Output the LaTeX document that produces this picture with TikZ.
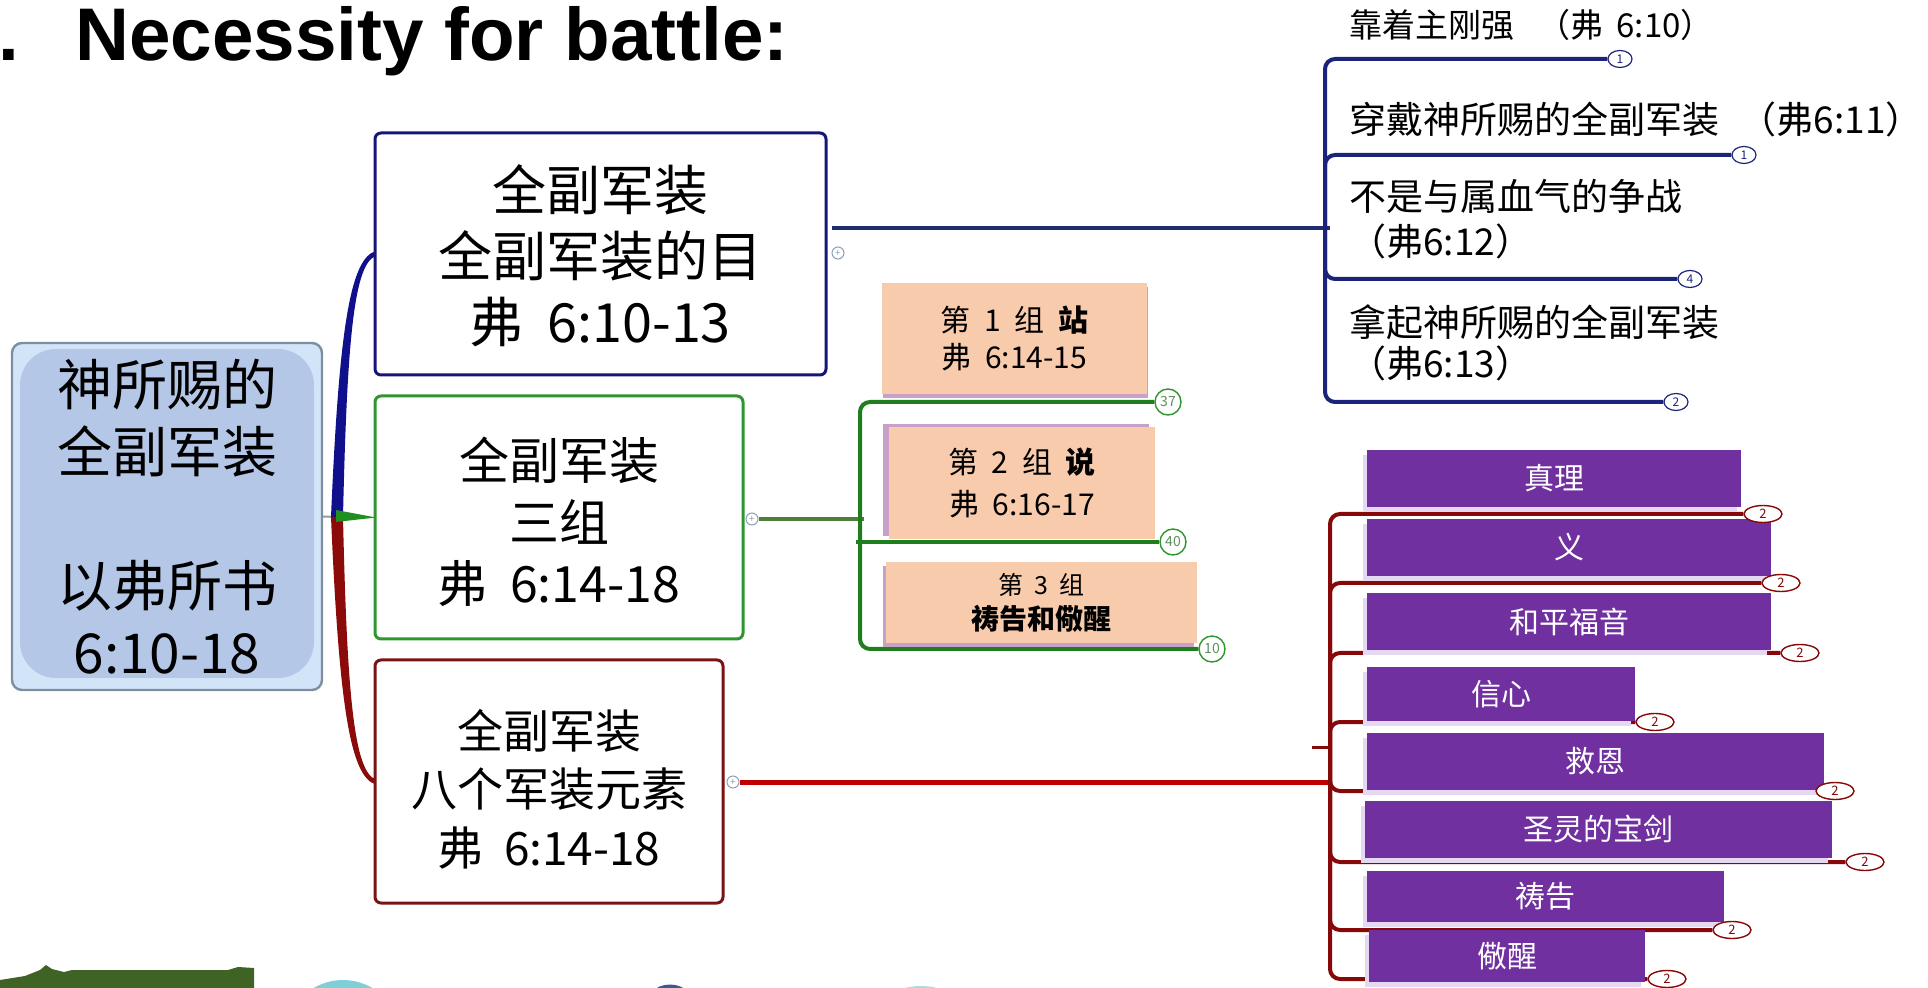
\documentclass[tikz,border=0pt]{standalone}
\usepackage{fontspec}
\setmainfont{Noto Sans CJK SC}
\newfontfamily\titlefont{Liberation Sans}
\usetikzlibrary{calc,shapes.geometric,shadows}
\pgfdeclarelayer{bg}
\pgfsetlayers{bg,main}
\newcommand{\kgap}{\hspace{0.45em}}
\definecolor{navybox}{HTML}{16167A}
\definecolor{bluecurve}{HTML}{10108C}
\definecolor{blueline}{HTML}{1F2C6E}
\definecolor{bluebr}{HTML}{1B2479}
\definecolor{greenbox}{HTML}{2E962E}
\definecolor{greencurve}{HTML}{1F8F1F}
\definecolor{greenstub}{HTML}{4F7F37}
\definecolor{greenbr}{HTML}{1E7E1E}
\definecolor{greentxt}{HTML}{5E8F5E}
\definecolor{redbox}{HTML}{7A1414}
\definecolor{redcurve}{HTML}{8B0A0A}
\definecolor{redline}{HTML}{C00000}
\definecolor{redbr}{HTML}{860808}
\definecolor{rootfill}{HTML}{B4C7E7}
\definecolor{rootedge}{HTML}{D2E4F8}
\definecolor{rootborder}{HTML}{7F8E9E}
\definecolor{orfill}{HTML}{F8CBAD}
\definecolor{orsh}{HTML}{C9A0C8}
\definecolor{purp}{HTML}{7030A0}
\definecolor{lav}{HTML}{E4D8F2}
\definecolor{leafgreen}{HTML}{3F6324}
\definecolor{plusring}{HTML}{8AA0B8}
\definecolor{blobcyan}{HTML}{7FCFD8}
\definecolor{blobblue}{HTML}{3D5A8A}
\definecolor{blobcyan2}{HTML}{A8DDE2}

\tikzset{
  bigbox/.style={draw, line width=1.5pt, rounded corners=3pt, fill=white, inner sep=0pt, outer sep=0pt},
  bigtext/.style={align=center, inner sep=0pt},
  orbox/.style={fill=orfill, inner sep=0pt, outer sep=0pt, align=center},
  pbox/.style={fill=purp, inner sep=0pt, outer sep=0pt, text=white, font=\fontsize{15}{18}\selectfont, minimum height=28.5pt, drop shadow={shadow xshift=-2pt, shadow yshift=-2.5pt, fill=lav, opacity=1}},
  plusc/.style={circle, draw=plusring, fill=white, line width=0.5pt, minimum size=6pt, inner sep=0pt, font=\fontsize{5}{5}\selectfont, text=plusring},
  bbadge/.style={ellipse, draw=bluebr, fill=white, line width=0.6pt, minimum width=12pt, minimum height=8.5pt, inner sep=0pt, font=\fontsize{6}{6}\selectfont, text=bluebr},
  rbadge/.style={ellipse, draw=redbr, fill=white, line width=0.7pt, minimum width=19pt, minimum height=8.5pt, inner sep=0pt, font=\fontsize{6.5}{6.5}\selectfont, text=redbr},
  gbadge/.style={circle, draw=greenbox, fill=white, line width=0.7pt, minimum size=13pt, inner sep=0pt, font=\fontsize{7}{7}\selectfont, text=greentxt},
  bluebrl/.style={draw=bluebr, line width=2pt, rounded corners=5pt},
  redbrl/.style={draw=redbr, line width=2pt, rounded corners=5pt},
  greenbrl/.style={draw=greenbr, line width=2pt, rounded corners=5pt},
  righttxt/.style={anchor=west, align=left, inner sep=0pt},
  titletxt/.style={anchor=base west, inner sep=0pt, font=\titlefont\bfseries\fontsize{37.3}{40}\selectfont},
}

\begin{document}
\begin{tikzpicture}[x=0.5pt, y=-0.5pt]
\useasboundingbox (0,0) rectangle (1928,988);
\clip (0,0) rectangle (1928,988);

% title
\node[titletxt] (tdot) at (-2,61) {.};
\node[titletxt] (title) at (75,61) {Necessity for battle:};

% root
\node[draw=rootborder, line width=1.2pt, fill=rootedge, rounded corners=5pt, minimum width=155pt, minimum height=173.5pt, inner sep=0pt, outer sep=0pt] (root) at (167,516.5) {};
\fill[rootfill, rounded corners=18pt] ($(root.north west)+(8,6)$) rectangle ($(root.south east)+(-8,-12)$);
\node[bigtext, font=\fontsize{27.5}{33.5}\selectfont] (roott) at (167,518) {神所赐的\\全副军装\\\mbox{}\\以弗所书\\6:10-18\vphantom{书}};
\coordinate (J) at (337,517);

% level 1 boxes
\node[bigbox, draw=navybox, minimum width=225.5pt, minimum height=121pt] (b1) at (600.5,254) {};
\node[bigtext, font=\fontsize{27}{33}\selectfont] (b1t) at (600,256) {全副军装\\全副军装的目\\弗\kgap 6:10-13};
\node[bigbox, draw=greenbox, minimum width=184pt, minimum height=121.5pt] (b2) at (559,517.5) {};
\node[bigtext, font=\fontsize{25}{30.75}\selectfont] (b2t) at (559,522) {全副军装\\三组\\弗\kgap 6:14-18};
\node[bigbox, draw=redbox, minimum width=174pt, minimum height=121.5pt] (b3) at (549,781.5) {};
\node[bigtext, font=\fontsize{23}{29.25}\selectfont] (b3t) at (549,789) {全副军装\\八个军装元素\\弗\kgap 6:14-18};

\node[plusc] (pl1) at (838,253) {+};
\node[plusc] (pl2) at (752,519) {+};
\node[plusc] (pl3) at (733,782) {+};

% blue branch
\coordinate (BJ) at (1325,228);
\node[bbadge] (bb1) at (1620,59) {1};
\node[bbadge] (bb2) at (1744,155) {1};
\node[bbadge] (bb3) at (1690,279) {4};
\node[bbadge] (bb4) at (1676,402) {2};
\node[righttxt, font=\fontsize{16.5}{20}\selectfont] (rt1) at (1349,25) {靠着主刚强\hspace{0.7em}（弗\hspace{0.4em}6:10）};
\node[righttxt, font=\fontsize{18.5}{22.5}\selectfont] (rt2) at (1349,119) {穿戴神所赐的全副军装\hspace{0.55em}（弗6:11）};
\node[righttxt, font=\fontsize{18.5}{22.5}\selectfont] (rt3) at (1349,219.5) {不是与属血气的争战\\（弗6:12）};
\node[righttxt, font=\fontsize{18.5}{20.5}\selectfont] (rt4) at (1349,343) {拿起神所赐的全副军装\\（弗6:13）};

% green branch
\coordinate (GJ) at (860,519);
\node[orbox, minimum width=132.5pt, minimum height=55.5pt, font=\fontsize{15}{18.5}\selectfont, drop shadow={shadow xshift=0.5pt, shadow yshift=-2pt, fill=orsh, opacity=1}] (g1) at (1014.5,338.5) {第\kgap 1\kgap 组\kgap\textbf{站}\\弗\kgap 6:14-15};
\node[orbox, minimum width=133pt, minimum height=56pt, font=\fontsize{15}{21}\selectfont, drop shadow={shadow xshift=-3pt, shadow yshift=1.5pt, fill=orsh, opacity=1}] (g2) at (1022,483) {第\kgap 2\kgap 组\kgap\textbf{说}\\弗\kgap 6:16-17};
\node[orbox, minimum width=155.5pt, minimum height=40.5pt, font=\fontsize{14}{17.5}\selectfont, drop shadow={shadow xshift=-1.5pt, shadow yshift=-2pt, fill=orsh, opacity=1}] (g3) at (1041.5,602.5) {{\fontsize{12.5}{17.5}\selectfont 第\kgap 3\kgap 组}\\\textbf{祷告和儆醒}};
\node[gbadge] (gb1) at (1168,402) {37};
\node[gbadge] (gb2) at (1173,542) {40};
\node[gbadge] (gb3) at (1212,649) {10};

% red branch
\coordinate (RJ) at (1330,782);
\node[pbox, minimum width=187pt] (p1) at (1554,478.5) {真理};
\node[pbox, minimum width=202pt] (p2) at (1569,547.5) {义};
\node[pbox, minimum width=202pt] (p3) at (1569,621.5) {和平福音};
\node[pbox, minimum width=134pt, minimum height=27pt] (p4) at (1501,694) {信心};
\node[pbox, minimum width=228.5pt] (p5) at (1595.5,761.5) {救恩};
\node[pbox, minimum width=233.5pt] (p6) at (1598.5,829.5) {圣灵的宝剑};
\node[pbox, minimum width=178.5pt, minimum height=25.5pt] (p7) at (1545.5,896.5) {祷告};
\node[pbox, minimum width=138pt, minimum height=26pt] (p8) at (1507,956) {儆醒};
\node[rbadge] (rb1) at (1763,514) {2};
\node[rbadge] (rb2) at (1781,583) {2};
\node[rbadge] (rb3) at (1800,653) {2};
\node[rbadge] (rb4) at (1655,722) {2};
\node[rbadge] (rb5) at (1835,791) {2};
\node[rbadge] (rb6) at (1865,862) {2};
\node[rbadge] (rb7) at (1732,930) {2};
\node[rbadge] (rb8) at (1667,979) {2};
\coordinate (tk) at (1312,747);

\begin{pgfonlayer}{bg}
\draw[draw=gray!80, line width=1pt] (root.east) -- (J);
\fill[bluecurve] ($(J)+(-6,0)$) .. controls ($(J)+(2,-187)$) and ($(b1.west)+(-25,4)$) .. ($(b1.west)+(1,-3)$) -- ($(b1.west)+(1,2)$) .. controls ($(b1.west)+(-21,9)$) and ($(J)+(10,-177)$) .. ($(J)+(6,0)$) -- cycle;
\fill[redcurve] ($(J)+(-6,0)$) .. controls ($(J)+(2,187)$) and ($(b3.west)+(-25,-4)$) .. ($(b3.west)+(1,3)$) -- ($(b3.west)+(1,-2)$) .. controls ($(b3.west)+(-21,-9)$) and ($(J)+(10,177)$) .. ($(J)+(6,0)$) -- cycle;
\fill[greencurve] ($(J)+(-1,-7)$) -- ($(b2.west)+(1,0)$) -- ($(J)+(-1,5)$) -- cycle;

\draw[blueline, line width=2pt] ($(b1.east |- BJ)+(6,0)$) -- ($(BJ)+(5,0)$);
\foreach \n in {bb1,bb2,bb3,bb4} {\draw[bluebrl] (BJ) |- (\n.west);}

\draw[greenstub, line width=2pt] (pl2.east) -- ($(pl2.east -| GJ)+(4,0)$);
\draw[greenbrl] (GJ) |- (gb1.west);
\draw[greenbrl] ($(GJ |- gb2.west)+(-4,0)$) -- (gb2.west);
\draw[greenbrl] (GJ) |- (gb3.west);

\draw[redline, line width=2.5pt] (pl3.east) -- (pl3.east -| RJ);
\foreach \i in {1,...,8} {\draw[redbrl] (RJ) |- (rb\i.west);}
\draw[redbr, line width=1.5pt] (tk) -- (tk -| RJ);
\end{pgfonlayer}

% bottom decorations
\fill[leafgreen] (0,988) -- (0,980) -- (25,976) -- (40,970) -- (46,965) -- (52,969) -- (64,972) -- (72,970) -- (150,970) -- (228,970) -- (238,967) -- (254,968) -- (254,988) -- cycle;
\fill[blobcyan] (343,1038) circle (29pt);
\fill[blobblue] (670,1012) circle (13.75pt);
\fill[blobcyan2] (921,1052) circle (33pt);
\end{tikzpicture}
\end{document}
